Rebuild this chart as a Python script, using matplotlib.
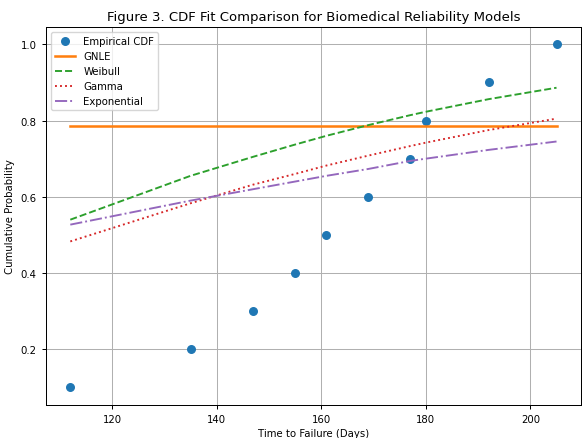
import numpy as np
import matplotlib.pyplot as plt

# failure times (days) and empirical CDF
t = [112, 135, 147, 155, 161, 169, 177, 180, 192, 205]
ecdf = [0.1, 0.2, 0.3, 0.4, 0.5, 0.6, 0.7, 0.8, 0.9, 1.0]

# fitted model CDFs at the same times
gnle = [0.786] * len(t)
weibull = [0.540, 0.655, 0.705, 0.737, 0.760, 0.788, 0.814, 0.823, 0.856, 0.886]
gamma = [0.483, 0.583, 0.632, 0.660, 0.682, 0.708, 0.733, 0.742, 0.775, 0.805]
expo = [0.527, 0.590, 0.620, 0.640, 0.655, 0.673, 0.694, 0.700, 0.723, 0.745]

s = 0.91  # overall scale of the original figure
fig, ax = plt.subplots(figsize=(5.82, 4.39), dpi=100)

ax.plot(t, ecdf, 'o', ms=6 * s, label='Empirical CDF')
ax.plot(t, gnle, '-', lw=2 * s, label='GNLE')
ax.plot(t, weibull, '--', lw=1.5 * s, label='Weibull')
ax.plot(t, gamma, ':', lw=1.5 * s, label='Gamma')
ax.plot(t, expo, '-.', lw=1.5 * s, label='Exponential')

ax.set_title('Figure 3. CDF Fit Comparison for Biomedical Reliability Models',
             fontsize=10.5 * s, pad=6 * s)
ax.set_xlabel('Time to Failure (Days)', fontsize=8 * s, labelpad=3)
ax.set_ylabel('Cumulative Probability', fontsize=8 * s)
ax.tick_params(labelsize=8 * s, width=0.8 * s, length=3.5 * s)
ax.grid(True, lw=0.8 * s)
for sp in ax.spines.values():
    sp.set_linewidth(0.8 * s)
ax.legend(loc='upper left', fontsize=8 * s)

fig.subplots_adjust(left=0.079, right=0.998, bottom=0.076, top=0.936)
plt.savefig('out.png')
